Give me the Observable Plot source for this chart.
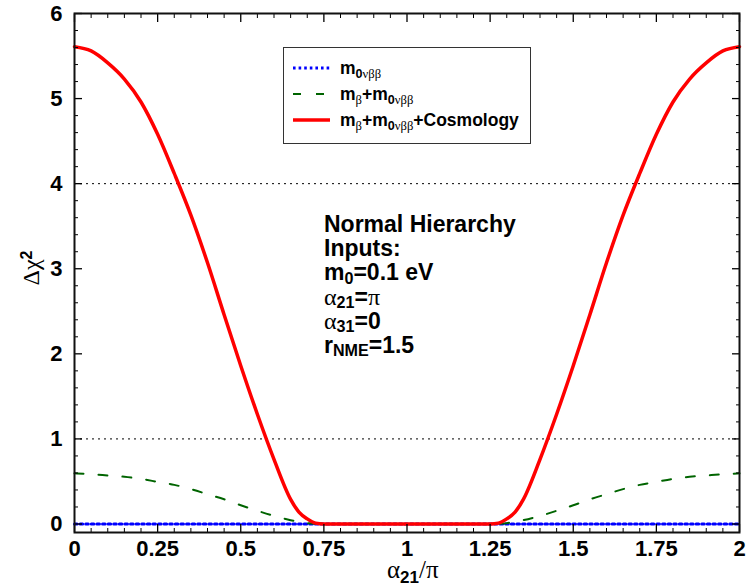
<!DOCTYPE html>
<html><head><meta charset="utf-8">
<script src="https://cdn.jsdelivr.net/npm/d3@7"></script>
<script src="https://cdn.jsdelivr.net/npm/@observablehq/plot@0.6"></script>
<style>
body{margin:0;background:#fff;}
#wrap{position:relative;width:746px;height:588px;font-family:"Liberation Sans",Arial,sans-serif;color:#000;}
#wrap svg{display:block;}
#wrap svg text{font-weight:bold;font-size:22px;}
.ov{position:absolute;white-space:nowrap;}
.sub{font-size:0.72em;position:relative;top:0.28em;line-height:0;}
.sup{font-size:0.72em;position:relative;top:-0.45em;line-height:0;}
.gr{font-family:"Liberation Serif","DejaVu Serif",serif;font-weight:normal;}
.b{font-weight:bold;}
#legend{position:absolute;left:283px;top:47px;width:246px;height:95px;border:1px solid #333;background:#fff;}
.lrow{position:absolute;left:0;height:20px;line-height:20px;font-size:17.5px;font-weight:bold;}
.lrow svg{position:absolute;left:8px;top:0;}
.lrow span.t{position:absolute;left:56px;top:0;}
#note{position:absolute;left:324px;top:212px;font-size:23px;font-weight:bold;line-height:24.2px;}
#note div{height:24.2px;}
#note .sub{top:0.2em;font-size:0.7em;}
#note .gr{font-size:24px;}
</style></head><body><div id="wrap"></div>
<script>
// alpha21/pi sample points
const alpha21 = [0,0.05,0.1,0.15,0.2,0.25,0.3,0.35,0.4,0.45,0.5,0.55,0.6,0.65,0.675,0.7,0.725,0.75,0.8,0.9,1,1.1,1.2,1.25,1.275,1.3,1.325,1.35,1.4,1.45,1.5,1.55,1.6,1.65,1.7,1.75,1.8,1.85,1.9,1.95,2];
// m_0vbb only
const dchi2Mbb = [0,0,0,0,0,0,0,0,0,0,0,0,0,0,0,0,0,0,0,0,0,0,0,0,0,0,0,0,0,0,0,0,0,0,0,0,0,0,0,0,0];
// m_beta + m_0vbb
const dchi2MbMbb = [0.595,0.585,0.57,0.555,0.53,0.495,0.46,0.41,0.35,0.29,0.22,0.155,0.095,0.045,0.025,0.01,0.003,0,0,0,0,0,0,0,0.003,0.01,0.025,0.045,0.095,0.155,0.22,0.29,0.35,0.41,0.46,0.495,0.53,0.555,0.57,0.585,0.595];
// m_beta + m_0vbb + Cosmology
const dchi2Cosmo = [5.61,5.56,5.42,5.23,4.96,4.58,4.12,3.63,3.07,2.46,1.86,1.29,0.76,0.29,0.14,0.06,0.01,0,0,0,0,0,0,0,0.01,0.06,0.14,0.29,0.76,1.29,1.86,2.46,3.07,3.63,4.12,4.58,4.96,5.23,5.42,5.56,5.61];

const xTicks = [0,0.25,0.5,0.75,1,1.25,1.5,1.75,2];
const xTickLabels = ["0","0.25","0.5","0.75","1","1.25","1.5","1.75","2"];
const yTicks = [0,1,2,3,4,5,6];
const yTickLabels = ["0","1","2","3","4","5","6"];
const refLines = [1,4];
const xMinor = d3.range(0,2.0001,0.05).filter(v=>Math.abs(v/0.25-Math.round(v/0.25))>1e-6);
const yMinor = d3.range(0,6.0001,0.2).filter(v=>Math.abs(v-Math.round(v))>1e-6);

const data = alpha21.map((a,i)=>({a, blue:dchi2Mbb[i], green:dchi2MbMbb[i], red:dchi2Cosmo[i]}));

const fx = d => xTickLabels[xTicks.indexOf(d)];
const fy = d => yTickLabels[yTicks.indexOf(d)];
const blank = () => "";

const plot = Plot.plot({
  width:746, height:588, marginLeft:74, marginRight:7, marginTop:13, marginBottom:56,
  x:{domain:[0,2]}, y:{domain:[-0.1,6]},
  style:{fontFamily:"Liberation Sans, Arial, sans-serif", fontSize:"22px", fontWeight:"bold", color:"#000", background:"#fff", overflow:"visible"},
  marks:[
    Plot.ruleY(refLines,{stroke:"#000",strokeWidth:1,strokeDasharray:"2,4"}),
    Plot.line(data,{x:"a",y:"blue",stroke:"#0000ff",strokeWidth:3,strokeDasharray:"2.6,3"}),
    Plot.line(data,{x:"a",y:"green",stroke:"#006400",strokeWidth:2,strokeDasharray:"9,15",curve:"monotone-x"}),
    Plot.line(data,{x:"a",y:"red",stroke:"#ff0000",strokeWidth:3.5,curve:"monotone-x"}),
    Plot.axisX(xTicks,{anchor:"bottom",tickSize:-8,tickPadding:16,tickFormat:fx,label:null,strokeWidth:1.3}),
    Plot.axisX(xMinor,{anchor:"bottom",tickSize:-4,tickFormat:blank,label:null}),
    Plot.axisX(xTicks,{anchor:"top",tickSize:-8,tickFormat:blank,label:null,strokeWidth:1.3}),
    Plot.axisX(xMinor,{anchor:"top",tickSize:-4,tickFormat:blank,label:null}),
    Plot.axisY(yTicks,{anchor:"left",tickSize:-8,tickPadding:20,tickFormat:fy,label:null,strokeWidth:1.3}),
    Plot.axisY(yMinor,{anchor:"left",tickSize:-4,tickFormat:blank,label:null}),
    Plot.axisY(yTicks,{anchor:"right",tickSize:-8,tickFormat:blank,label:null,strokeWidth:1.3}),
    Plot.axisY(yMinor,{anchor:"right",tickSize:-4,tickFormat:blank,label:null}),
    Plot.frame({stroke:"#111",strokeWidth:2})
  ]
});
const wrap = document.getElementById("wrap");
wrap.appendChild(plot);

// legend
const legendItems = [
  {html:'m<span class="sub">0<span class="gr">νββ</span></span>', stroke:"#0000ff", width:3, dash:"2.6,3", top:10},
  {html:'m<span class="sub gr">β</span>+m<span class="sub">0<span class="gr">νββ</span></span>', stroke:"#006400", width:2, dash:"8,15", top:36},
  {html:'m<span class="sub gr">β</span>+m<span class="sub">0<span class="gr">νββ</span></span>+Cosmology', stroke:"#ff0000", width:3.5, dash:null, top:62}
];
const leg = document.createElement("div");
leg.id = "legend";
legendItems.forEach(it=>{
  const r = document.createElement("div");
  r.className = "lrow";
  r.style.top = it.top + "px";
  r.innerHTML = `<svg width="40" height="20"><line x1="1" y1="10" x2="38" y2="10" stroke="${it.stroke}" stroke-width="${it.width}" ${it.dash?`stroke-dasharray="${it.dash}"`:""}/></svg><span class="t">${it.html}</span>`;
  leg.appendChild(r);
});
wrap.appendChild(leg);

// annotation
const noteLines = [
  'Normal Hierarchy',
  'Inputs:',
  'm<span class="sub">0</span>=0.1 eV',
  '<span class="gr">α</span><span class="sub">21</span>=<span class="gr">π</span>',
  '<span class="gr">α</span><span class="sub">31</span>=0',
  'r<span class="sub">NME</span>=1.5'
];
const note = document.createElement("div");
note.id = "note";
note.innerHTML = noteLines.map(l=>`<div>${l}</div>`).join("");
wrap.appendChild(note);

// axis titles
const xl = document.createElement("div");
xl.className = "ov";
xl.style.cssText = "left:387px;top:555px;font-size:25px;line-height:28px;";
xl.innerHTML = '<span class="gr">α</span><span class="sub b" style="font-size:17px">21</span><span class="gr">/π</span>';
wrap.appendChild(xl);

const yl = document.createElement("div");
yl.className = "ov";
yl.style.cssText = "left:31px;top:268px;font-size:24px;transform:translate(-50%,-50%) rotate(-90deg);";
yl.innerHTML = '<span class="gr">Δχ</span><span class="sup b" style="font-size:16px">2</span>';
wrap.appendChild(yl);
</script></body></html>
